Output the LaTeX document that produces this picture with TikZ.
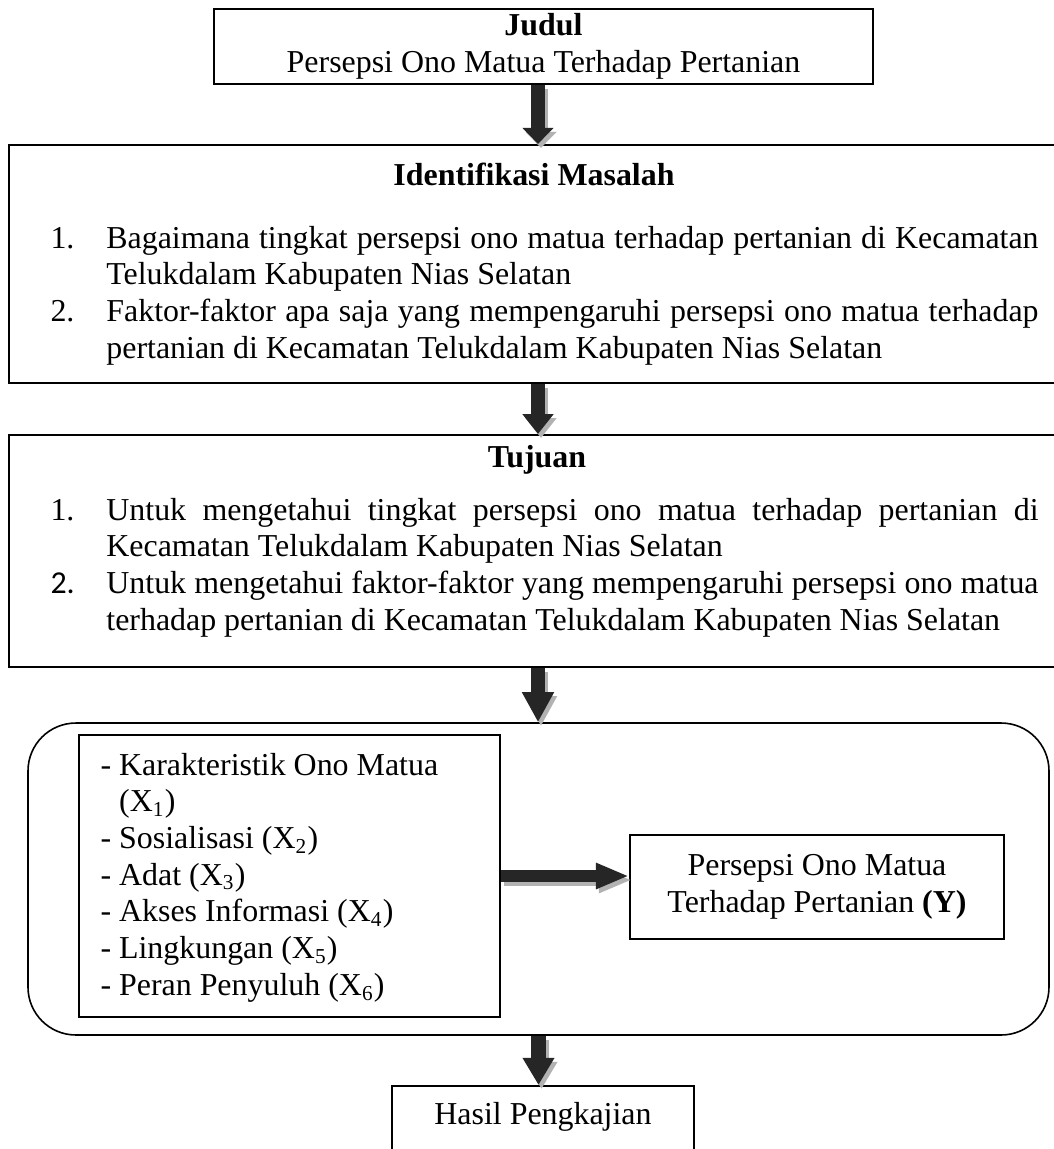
\documentclass[tikz,border=0pt]{standalone}
\usepackage{fontspec}
\setmainfont{Liberation Serif}
\newfontfamily\calibri{Carlito}
\usetikzlibrary{arrows.meta}
\hyphenpenalty=10000
\exhyphenpenalty=10000
\tolerance=10000
\hbadness=10000
\tikzset{
  box/.style={draw, rectangle, line width=0.8pt, inner sep=0pt},
  blockarrow/.style={line width=5.3pt, black!85, -{Triangle[length=#1, width=11.3pt]}},
  shadowarrow/.style={line width=5.3pt, gray!60, -{Triangle[length=#1, width=11.3pt]}, transform canvas={shift={(3,4)}}},
  sidearrow/.style={line width=4.5pt, black!85, -{Triangle[length=12.4pt, width=9pt]}},
  sideshadow/.style={line width=4.5pt, gray!60, -{Triangle[length=12.4pt, width=9pt]}, transform canvas={shift={(3,4)}}}
}
\begin{document}
\begin{tikzpicture}[x=0.376pt, y=-0.376pt, font=\fontsize{12}{13.8}\selectfont]
      \useasboundingbox (0,0) rectangle (1054,1149);
      \clip (0,0) rectangle (1054,1149);
      \node[box, line width=1pt, minimum width=247.8pt, minimum height=28.2pt, align=center] (judul) at (543.5,46.5)
        {\textbf{Judul}\\Persepsi Ono Matua Terhadap Pertanian};
      \node[box, minimum width=397.8pt, minimum height=89.5pt] (masalah) at (538,264) {};
      \node[anchor=base] (judulmasalah) at (534,185) {\textbf{Identifikasi Masalah}};
      \node[anchor=base west, text width=371.5pt, align=justify, inner sep=0pt] (isimasalah) at (50,248)
        {\makebox[21pt][l]{1.}\hangindent=21pt\hangafter=1 Bagaimana tingkat persepsi ono matua terhadap pertanian di Kecamatan\linebreak Telukdalam Kabupaten Nias Selatan\par
         \makebox[21pt][l]{2.}\hangindent=21pt\hangafter=1 Faktor-faktor apa saja yang mempengaruhi persepsi ono matua terhadap\linebreak pertanian di Kecamatan Telukdalam Kabupaten Nias Selatan\par};
      \node[box, minimum width=397.8pt, minimum height=87.2pt] (tujuan) at (538,551) {};
      \node[anchor=base] (judultujuan) at (537,467) {\textbf{Tujuan}};
      \node[anchor=base west, text width=371.5pt, align=justify, inner sep=0pt] (isitujuan) at (50,520)
        {\makebox[21pt][l]{1.}\hangindent=21pt\hangafter=1 Untuk mengetahui tingkat persepsi ono matua terhadap pertanian di\linebreak Kecamatan Telukdalam Kabupaten Nias Selatan\par
         \makebox[21pt][l]{\calibri 2.}\hangindent=21pt\hangafter=1 Untuk mengetahui faktor-faktor yang mempengaruhi persepsi ono matua\linebreak terhadap pertanian di Kecamatan Telukdalam Kabupaten Nias Selatan\par};
      \node[draw, line width=0.6pt, rounded corners=18pt, minimum width=383.9pt, minimum height=117.3pt] (wadah) at (538.5,879) {};
      \node[box, minimum width=158.3pt, minimum height=106pt] (faktor) at (289.5,876) {};
      \node[anchor=base west, text width=150pt, align=flush left, inner sep=0pt] (daftar) at (100,775)
        {- Karakteristik Ono Matua\\
         \hspace*{7pt}(X\textsubscript{1})\\
         - Sosialisasi (X\textsubscript{2})\\
         - Adat (X\textsubscript{3})\\
         - Akses Informasi (X\textsubscript{4})\\
         - Lingkungan (X\textsubscript{5})\\
         - Peran Penyuluh (X\textsubscript{6})};
      \node[box, minimum width=140.6pt, minimum height=39.1pt, align=center] (persepsi) at (817,887)
        {Persepsi Ono Matua\\Terhadap Pertanian \textbf{(Y)}};
      \node[box, anchor=north, minimum width=113.6pt, text height=14.3pt, text depth=22.6pt] (hasil) at (543,1085)
        {Hasil Pengkajian};
      \begin{scope}
        \draw[shadowarrow=6pt] (judul.south -| masalah.north) -- (masalah.north);
        \draw[blockarrow=6pt] (judul.south -| masalah.north) -- (masalah.north);
        \draw[shadowarrow=7.5pt] (masalah.south) -- (tujuan.north);
        \draw[blockarrow=7.5pt] (masalah.south) -- (tujuan.north);
        \draw[shadowarrow=11.3pt] (tujuan.south) -- (tujuan.south |- wadah.north);
        \draw[blockarrow=11.3pt] (tujuan.south) -- (tujuan.south |- wadah.north);
        \draw[shadowarrow=10.2pt] (wadah.south) -- (wadah.south |- hasil.north);
        \draw[blockarrow=10.2pt] (wadah.south) -- (wadah.south |- hasil.north);
        \draw[sideshadow] (faktor.east) -- (faktor.east -| persepsi.west);
        \draw[sidearrow] (faktor.east) -- (faktor.east -| persepsi.west);
      \end{scope}
    \end{tikzpicture}
\end{document}
